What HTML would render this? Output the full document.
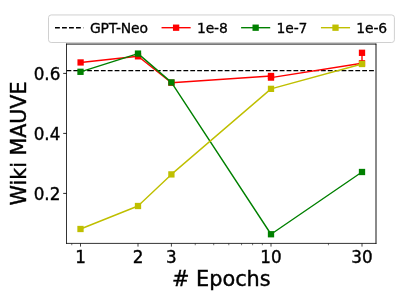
<!DOCTYPE html><html><head><meta charset="utf-8"><title>Wiki MAUVE</title><style>html,body{margin:0;padding:0;background:#fff;}svg{display:block;}text{font-family:"DejaVu Sans","Liberation Sans",sans-serif;fill:#000;stroke:#000;stroke-width:0.3px;}text.tk{stroke-width:0.38px;}text.lb{stroke-width:0.4px;}</style></head><body>
<svg width="399" height="299" viewBox="0 0 399 299">
<rect width="399" height="299" fill="#fff"/>
<defs><clipPath id="c"><rect x="66.50" y="44.07" width="309.50" height="199.33"/></clipPath></defs>
<g clip-path="url(#c)">
<line x1="66.50" x2="376.00" y1="70.6" y2="70.6" stroke="#000" stroke-width="1.39" stroke-dasharray="4.8 2.077"/>
<polyline fill="none" stroke="#ff0000" stroke-width="1.39" stroke-linejoin="round" points="80.60,62.45 138.00,56.30 171.40,82.70 271.00,76.00 271.00,77.60 362.00,63.30 362.00,52.80"/><rect x="77.45" y="59.30" width="6.30" height="6.30" fill="#ff0000"/><rect x="134.85" y="53.15" width="6.30" height="6.30" fill="#ff0000"/><rect x="168.25" y="79.55" width="6.30" height="6.30" fill="#ff0000"/><rect x="267.85" y="72.85" width="6.30" height="6.30" fill="#ff0000"/><rect x="267.85" y="74.45" width="6.30" height="6.30" fill="#ff0000"/><rect x="358.85" y="60.15" width="6.30" height="6.30" fill="#ff0000"/><rect x="358.85" y="49.65" width="6.30" height="6.30" fill="#ff0000"/>
<polyline fill="none" stroke="#008000" stroke-width="1.39" stroke-linejoin="round" points="80.50,71.80 138.00,53.60 171.40,82.40 271.00,234.25 362.00,172.00"/><rect x="77.35" y="68.65" width="6.30" height="6.30" fill="#008000"/><rect x="134.85" y="50.45" width="6.30" height="6.30" fill="#008000"/><rect x="168.25" y="79.25" width="6.30" height="6.30" fill="#008000"/><rect x="267.85" y="231.10" width="6.30" height="6.30" fill="#008000"/><rect x="358.85" y="168.85" width="6.30" height="6.30" fill="#008000"/>
<polyline fill="none" stroke="#bfbf00" stroke-width="1.39" stroke-linejoin="round" points="80.50,229.00 138.00,206.00 171.40,174.40 271.00,88.85 362.00,64.00"/><rect x="77.35" y="225.85" width="6.30" height="6.30" fill="#bfbf00"/><rect x="134.85" y="202.85" width="6.30" height="6.30" fill="#bfbf00"/><rect x="168.25" y="171.25" width="6.30" height="6.30" fill="#bfbf00"/><rect x="267.85" y="85.70" width="6.30" height="6.30" fill="#bfbf00"/><rect x="358.85" y="60.85" width="6.30" height="6.30" fill="#bfbf00"/>
</g>
<line x1="80.50" x2="80.50" y1="243.40" y2="246.60" stroke="#000" stroke-width="0.74"/>
<text x="80.50" y="262.7" font-size="16.75" class="tk" text-anchor="middle">1</text>
<line x1="138.00" x2="138.00" y1="243.40" y2="246.60" stroke="#000" stroke-width="0.74"/>
<text x="138.00" y="262.7" font-size="16.75" class="tk" text-anchor="middle">2</text>
<line x1="171.40" x2="171.40" y1="243.40" y2="246.60" stroke="#000" stroke-width="0.74"/>
<text x="171.40" y="262.7" font-size="16.75" class="tk" text-anchor="middle">3</text>
<line x1="271.00" x2="271.00" y1="243.40" y2="246.60" stroke="#000" stroke-width="0.74"/>
<text x="271.00" y="262.7" font-size="16.75" class="tk" text-anchor="middle">10</text>
<line x1="362.00" x2="362.00" y1="243.40" y2="246.60" stroke="#000" stroke-width="0.74"/>
<text x="362.00" y="262.7" font-size="16.75" class="tk" text-anchor="middle">30</text>
<line x1="71.78" x2="71.78" y1="243.40" y2="245.25" stroke="#000" stroke-width="0.55"/>
<line x1="195.24" x2="195.24" y1="243.40" y2="245.25" stroke="#000" stroke-width="0.55"/>
<line x1="213.71" x2="213.71" y1="243.40" y2="245.25" stroke="#000" stroke-width="0.55"/>
<line x1="228.79" x2="228.79" y1="243.40" y2="245.25" stroke="#000" stroke-width="0.55"/>
<line x1="241.55" x2="241.55" y1="243.40" y2="245.25" stroke="#000" stroke-width="0.55"/>
<line x1="252.60" x2="252.60" y1="243.40" y2="245.25" stroke="#000" stroke-width="0.55"/>
<line x1="262.35" x2="262.35" y1="243.40" y2="245.25" stroke="#000" stroke-width="0.55"/>
<line x1="328.44" x2="328.44" y1="243.40" y2="245.25" stroke="#000" stroke-width="0.55"/>
<line x1="63.20" x2="66.50" y1="193.40" y2="193.40" stroke="#000" stroke-width="0.85"/>
<text x="60.3" y="200.05" font-size="16.75" class="tk" text-anchor="end">0.2</text>
<line x1="63.20" x2="66.50" y1="133.40" y2="133.40" stroke="#000" stroke-width="0.85"/>
<text x="60.3" y="140.05" font-size="16.75" class="tk" text-anchor="end">0.4</text>
<line x1="63.20" x2="66.50" y1="73.40" y2="73.40" stroke="#000" stroke-width="0.85"/>
<text x="60.3" y="80.05" font-size="16.75" class="tk" text-anchor="end">0.6</text>
<line x1="66.50" x2="66.50" y1="43.67" y2="243.80" stroke="#000" stroke-width="0.8"/>
<line x1="376.00" x2="376.00" y1="43.67" y2="243.80" stroke="#000" stroke-width="0.92"/>
<line x1="66.10" x2="376.25" y1="44.07" y2="44.07" stroke="#000" stroke-width="0.93"/>
<line x1="66.10" x2="376.45" y1="243.40" y2="243.40" stroke="#000" stroke-width="0.8"/>
<text x="221.3" y="285.7" font-size="20.85" class="lb" text-anchor="middle"># Epochs</text>
<text transform="translate(26,143.5) rotate(-90)" font-size="20.6" class="lb" text-anchor="middle">Wiki MAUVE</text>
<rect x="48.5" y="14.95" width="345.9" height="27.55" rx="2.7" ry="2.7" fill="#fff" fill-opacity="0.8" stroke="#ccc" stroke-width="0.92"/>
<line x1="55.0" x2="83.3" y1="27.70" y2="27.70" stroke="#000" stroke-width="1.39" stroke-dasharray="4.85 2.15"/>
<text x="89.95" y="32.7" font-size="13.9" letter-spacing="-0.13">GPT-Neo</text>
<line x1="161.55" x2="190.65" y1="27.70" y2="27.70" stroke="#ff0000" stroke-width="1.39"/>
<rect x="172.95" y="24.55" width="6.30" height="6.30" fill="#ff0000"/>
<text x="197.00" y="32.75" font-size="13.9" letter-spacing="-0.13">1e-8</text>
<line x1="241.10" x2="270.20" y1="27.70" y2="27.70" stroke="#008000" stroke-width="1.39"/>
<rect x="252.50" y="24.55" width="6.30" height="6.30" fill="#008000"/>
<text x="276.55" y="32.75" font-size="13.9" letter-spacing="-0.13">1e-7</text>
<line x1="320.95" x2="350.05" y1="27.70" y2="27.70" stroke="#bfbf00" stroke-width="1.39"/>
<rect x="332.35" y="24.55" width="6.30" height="6.30" fill="#bfbf00"/>
<text x="356.30" y="32.75" font-size="13.9" letter-spacing="-0.13">1e-6</text>
</svg></body></html>
